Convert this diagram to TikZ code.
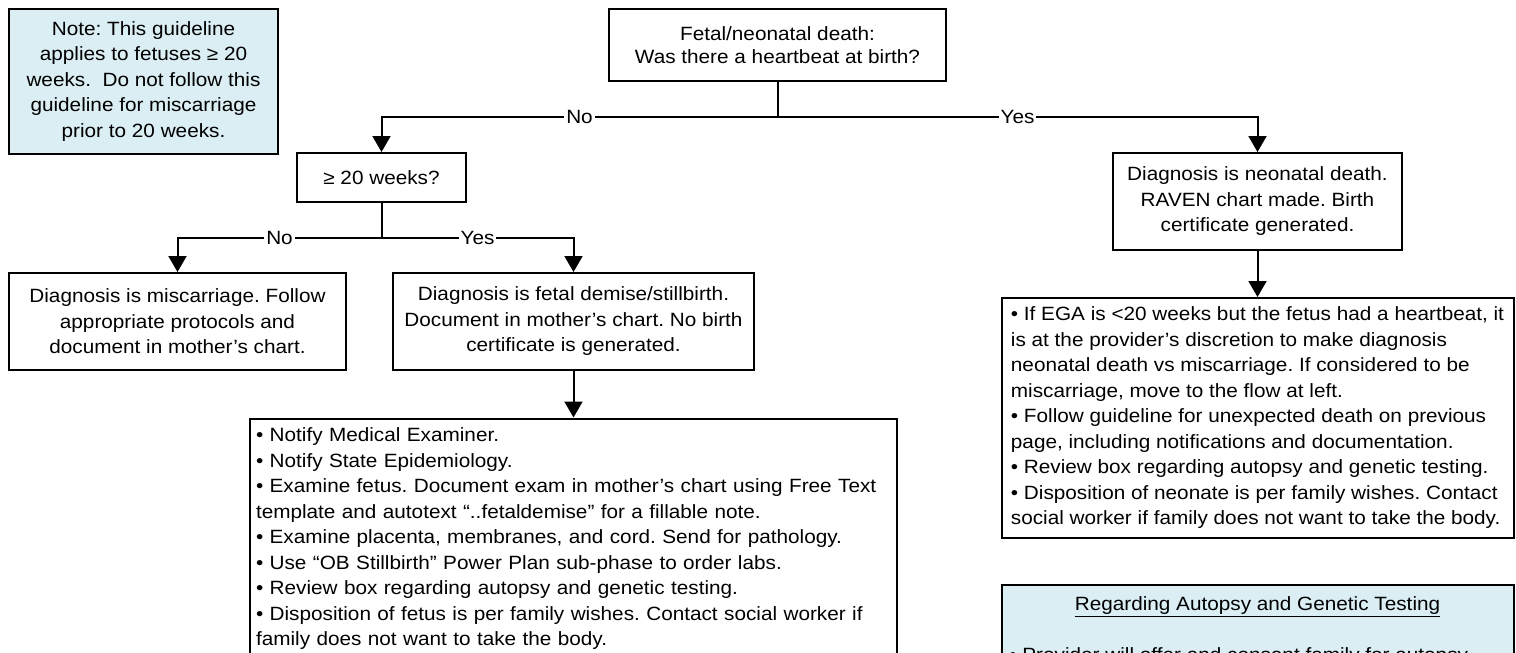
\documentclass[tikz,border=0pt]{standalone}
\usepackage{fontspec}
\setmainfont{Liberation Sans}[FakeStretch=1.08]
\usetikzlibrary{arrows.meta}
\definecolor{noteblue}{RGB}{219,238,244}
\begin{document}
\frenchspacing
\begin{tikzpicture}[x=0.5pt,y=-0.5pt,
  every node/.style={font=\fontsize{9.6}{12.75}\selectfont},
  box/.style={draw=black, line width=1pt, fill=white, inner sep=0pt, align=center},
  infobox/.style={box, fill=noteblue},
  listbox/.style={box, align=left},
  flow/.style={line width=1pt},
  arr/.style={flow, -{Triangle[width=9pt,length=8pt]}},
  tag/.style={fill=white, inner sep=1pt},
]
\useasboundingbox (0,0) rectangle (1516,653);
\clip (0,0) rectangle (1516,653);

% scope note
\node[infobox, minimum width=134.5pt, minimum height=72.5pt] (note) at (143.5,81.5)
  {Note: This guideline\\applies to fetuses ≥ 20\\weeks.\ \ Do not follow this\\guideline for miscarriage\\prior to 20 weeks.};

% decision boxes
\node[box, minimum width=168.5pt, minimum height=36pt, font=\fontsize{9.6}{11.5}\selectfont] (start) at (777.5,45)
  {Fetal/neonatal death:\\Was there a heartbeat at birth?};
\node[box, minimum width=84.5pt, minimum height=24.5pt] (weeks) at (381.5,177.5) {≥ 20 weeks?};

% outcomes, left branch
\node[box, minimum width=168.5pt, minimum height=48.5pt] (miscarriage) at (177.5,321.5)
  {Diagnosis is miscarriage. Follow\\appropriate protocols and\\document in mother’s chart.};
\node[box, minimum width=180.5pt, minimum height=48.5pt] (stillbirth) at (573.5,321.5)
  {Diagnosis is fetal demise/stillbirth.\\Document in mother’s chart. No birth\\certificate is generated.};
\node[listbox, text width=317.5pt, inner xsep=3pt, minimum height=120.5pt] (fetalsteps) at (573.5,539)
  {• Notify Medical Examiner.\\
   • Notify State Epidemiology.\\
   • Examine fetus. Document exam in mother’s chart using Free Text\\
   template and autotext “..fetaldemise” for a fillable note.\\
   • Examine placenta, membranes, and cord. Send for pathology.\\
   • Use “OB Stillbirth” Power Plan sub-phase to order labs.\\
   • Review box regarding autopsy and genetic testing.\\
   • Disposition of fetus is per family wishes. Contact social worker if\\
   family does not want to take the body.};

% outcomes, right branch
\node[box, minimum width=144.5pt, minimum height=48.5pt] (neonatal) at (1257.5,201.5)
  {Diagnosis is neonatal death.\\RAVEN chart made. Birth\\certificate generated.};
\node[listbox, minimum width=256pt, minimum height=120pt] (neosteps) at (1257.5,418)
  {• If EGA is <20 weeks but the fetus had a heartbeat, it\\
   is at the provider’s discretion to make diagnosis\\
   neonatal death vs miscarriage. If considered to be\\
   miscarriage, move to the flow at left.\\
   • Follow guideline for unexpected death on previous\\
   page, including notifications and documentation.\\
   • Review box regarding autopsy and genetic testing.\\
   • Disposition of neonate is per family wishes. Contact\\
   social worker if family does not want to take the body.};

% autopsy / genetic testing panel
\node[infobox, minimum width=256pt, minimum height=60pt, anchor=north] (autopsy) at (1257.5,584) {};
\node[anchor=base, inner sep=0pt] (autopsytitle) at (1257.5,610) {\underline{Regarding Autopsy and Genetic Testing}};
\node[anchor=base west, inner sep=0pt] (autopsyitem) at (1009,661) {• Provider will offer and consent family for autopsy};

% connectors
\coordinate (split) at (777.5,117);
\draw[flow] (start.south) -- (split);
\draw[arr] (split) -| node[tag, pos=0.25] {No} (weeks.north);
\draw[arr] (split) -| node[tag, pos=0.25] {Yes} (neonatal.north);

\coordinate (split2) at (381.5,238);
\draw[flow] (weeks.south) -- (split2);
\draw[arr] (split2) -| node[tag, pos=0.25] {No} (miscarriage.north);
\draw[arr] (split2) -| node[tag, pos=0.25] {Yes} (stillbirth.north);

\draw[arr] (stillbirth.south) -- (fetalsteps.north);
\draw[arr] (neonatal.south) -- (neosteps.north);
\end{tikzpicture}
\end{document}
